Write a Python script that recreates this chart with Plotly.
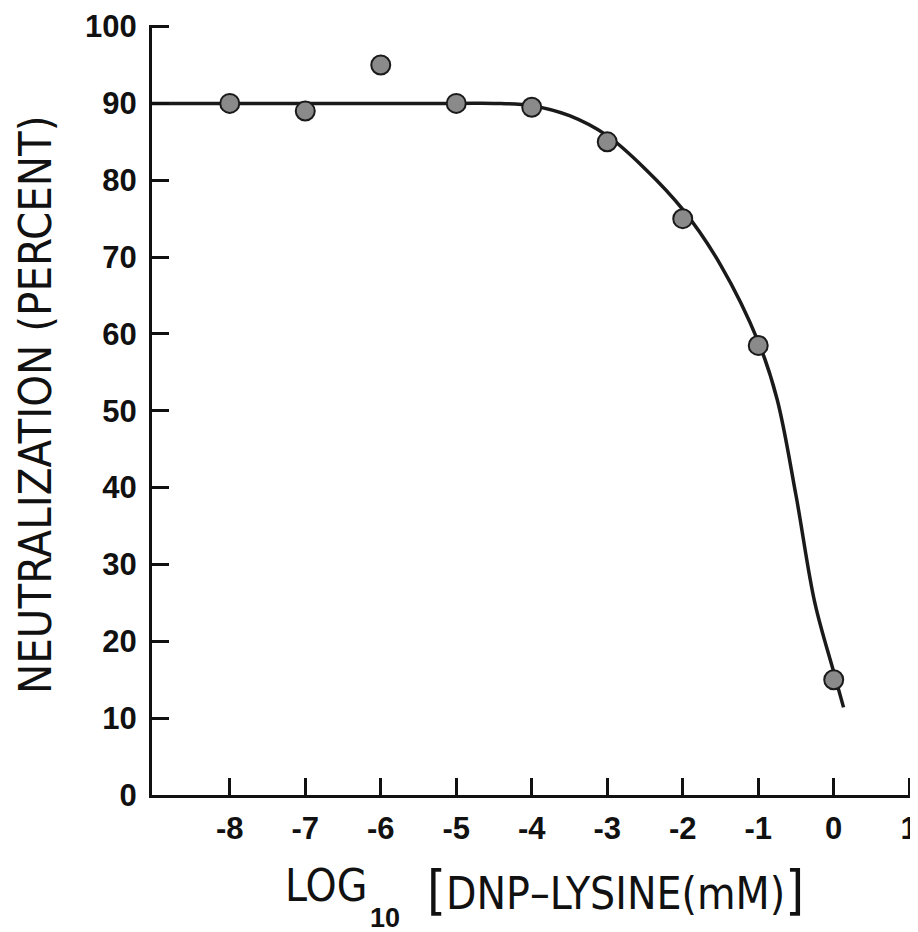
import plotly.graph_objects as go

# Data
log_conc = [-8, -7, -6, -5, -4, -3, -2, -1, 0]
neutralization = [90, 89, 95, 90, 89.5, 85, 75, 58.5, 15]

# Fitted curve as drawn
curve_x = [-9.03, -5, -4.5, -4, -3.5, -3, -2.5, -2, -1.5, -1, -0.75, -0.5, -0.25, 0, 0.13]
curve_y = [90, 90, 90, 89.7, 88.4, 85.8, 81.5, 76.2, 69, 59, 51.5, 39, 25, 16, 11.4]

x_ticks = [-8, -7, -6, -5, -4, -3, -2, -1, 0, 1]
x_ticktext = ["-8", "-7", "-6", "-5", "-4", "-3", "-2", "-1", "0", "1"]
y_ticks = [0, 10, 20, 30, 40, 50, 60, 70, 80, 90, 100]

NARROW = "DejaVu Sans Condensed, Liberation Sans Narrow, sans-serif"
TICKF = "Liberation Sans, Arial, sans-serif"

fig = go.Figure()
fig.add_trace(go.Scatter(x=curve_x, y=curve_y, mode="lines",
                         line=dict(color="#1a1a1a", width=3.5, shape="spline", smoothing=1.0),
                         hoverinfo="skip", showlegend=False))
fig.add_trace(go.Scatter(x=log_conc, y=neutralization, mode="markers",
                         marker=dict(size=19, color="#8a8a8a", line=dict(color="#1a1a1a", width=2)),
                         showlegend=False))

# page has an 8px body margin; compensate so the plot area lands at the right page pixels
OFF = 8
W, H = 918 - OFF, 932 - OFF
L, R, T, B = 152 - OFF, 5, 25 - OFF, 137
pw, ph = W - L - R, H - T - B

def px(xpage):
    return (xpage - OFF - L) / pw

def py(ypage):
    return (H - B - (ypage - OFF)) / ph

fig.update_layout(
    width=W, height=H,
    margin=dict(l=L, r=R, t=T, b=B, autoexpand=False),
    paper_bgcolor="white", plot_bgcolor="white",
    font=dict(family=NARROW, color="#111"),
    xaxis=dict(range=[-9.03, 1.05], tickvals=x_ticks, ticktext=x_ticktext,
               ticks="inside", ticklen=17, tickwidth=3, tickcolor="#111",
               showline=True, linewidth=3, linecolor="#111",
               showgrid=False, zeroline=False, ticklabeloverflow="allow",
               tickfont=dict(family=TICKF, size=31, color="#111", weight="bold"),
               ticklabelstandoff=4),
    yaxis=dict(range=[0, 100.2], tickvals=y_ticks,
               ticks="inside", ticklen=17, tickwidth=3, tickcolor="#111",
               showline=True, linewidth=3, linecolor="#111",
               showgrid=False, zeroline=False, ticklabeloverflow="allow",
               tickfont=dict(family=TICKF, size=31, color="#111", weight="bold"),
               ticklabelstandoff=6),
)

ann = [
    dict(text="NEUTRALIZATION (PERCENT)", x=px(35), y=py(405), textangle=-90,
         font=dict(size=45, family=NARROW, color="#111")),
    dict(text="LOG", x=px(283), y=py(885), xanchor="left",
         font=dict(size=44, family=NARROW, color="#111")),
    dict(text="<b>10</b>", x=px(368), y=py(918), xanchor="left",
         font=dict(size=27, family=TICKF, color="#111")),
    dict(text="<span style='font-size:54px'>[</span>DNP–LYSINE(mM)<span style='font-size:54px'>]</span>",
         x=px(425), y=py(890), xanchor="left",
         font=dict(size=44, family=NARROW, color="#111")),
]
for a in ann:
    a.update(xref="paper", yref="paper", showarrow=False, yanchor="middle")
    a.setdefault("xanchor", "center")
fig.update_layout(annotations=ann)

fig.write_html("out.html")
